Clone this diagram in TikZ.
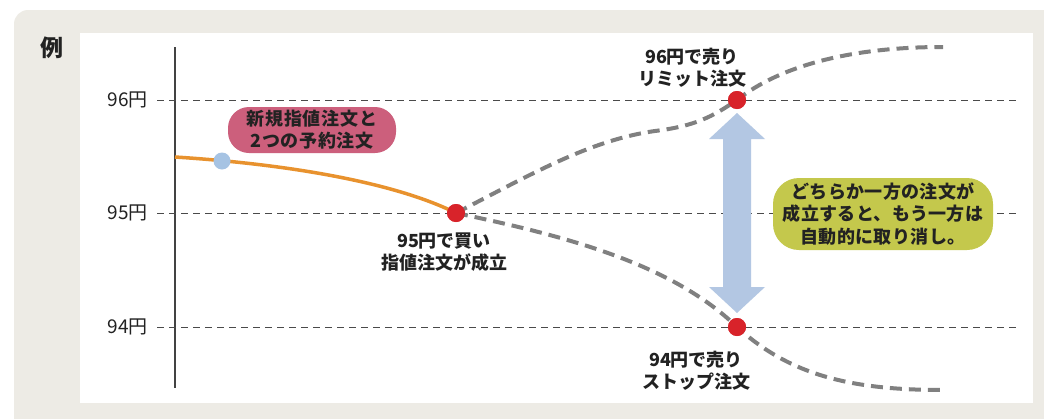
\documentclass[tikz,border=0pt]{standalone}
\usepackage{fontspec}
\setmainfont{Noto Sans CJK JP}
\usetikzlibrary{calc}
\definecolor{bggray}{HTML}{EDEBE5}
\definecolor{txt}{HTML}{222222}
\definecolor{orangeC}{HTML}{E8922E}
\definecolor{pinkC}{HTML}{CC5F7C}
\definecolor{greenC}{HTML}{C4C84C}
\definecolor{arrowC}{HTML}{B3C7E3}
\definecolor{bluedot}{HTML}{A6C3E3}
\definecolor{redC}{HTML}{D8232A}
\definecolor{dashC}{HTML}{808080}
\definecolor{gridC}{HTML}{4A4A4A}
\tikzset{
  lbl/.style={text=txt, align=center, font=\bfseries\fontsize{18}{22}\selectfont, inner sep=0pt},
  ylbl/.style={text=txt, anchor=east, font=\fontsize{19}{19}\selectfont, inner sep=0pt},
  grid/.style={gridC, line width=0.9pt, dash pattern=on 7pt off 5pt},
  gdash/.style={dashC, line width=4pt, dash pattern=on 12pt off 7pt},
  pill/.style={rounded corners=21pt, text=txt, align=center, font=\bfseries\fontsize{18}{22}\selectfont\addfontfeature{LetterSpace=4}, inner sep=0pt},
  dot/.style={circle, inner sep=0pt, minimum size=18pt},
}
\begin{document}
\begin{tikzpicture}[x=1pt,y=-1pt]
\useasboundingbox (0,0) rectangle (1044,418);
% background panels
\fill[bggray, rounded corners=14pt] (14,10) rectangle (1070,440);
\fill[white] (80,33) rectangle (1033,403);
\node[text=txt, font=\bfseries\fontsize{23}{23}\selectfont, inner sep=0pt] (rei) at (52,48) {例};
% axis
\coordinate (axtop) at (175,47);
\coordinate (axbot) at (175,388);
\draw[gridC!90!black, line width=1.3pt] (axtop) -- (axbot);
% grid lines and labels
\node[ylbl] (l96) at (148,100) {96円};
\node[ylbl] (l95) at (148,213) {95円};
\node[ylbl] (l94) at (148,327) {94円};
\coordinate (e96) at (1017,100);
\coordinate (e95) at (1017,213);
\coordinate (e94) at (1017,327);
\draw[grid] (l96.east) ++(9,0) -- (e96);
\draw[grid] (l95.east) ++(9,0) -- (e95);
\draw[grid] (l94.east) ++(9,0) -- (e94);
% arrow
\fill[arrowC] (737,113) -- (765,139) -- (751,139) -- (751,287) -- (765,287) -- (737,313) -- (709,287) -- (723,287) -- (723,139) -- (709,139) -- cycle;
% curves
\coordinate (ostart) at (175,157);
\coordinate (uend) at (943,47);
\coordinate (lend) at (943,390);
\node[dot, fill=redC] (buy) at (456,213) {};
\node[dot, fill=redC] (limit) at (737,100) {};
\node[dot, fill=redC] (stop) at (737,327) {};
\draw[gdash] (buy.center) .. controls (530,175) and (590,140) .. (655,131) .. controls (695,126) and (712,117) .. (limit.center) .. controls (780,66) and (850,47) .. (uend);
\draw[gdash] (buy.center) .. controls (560,235) and (670,262) .. (stop.center) .. controls (790,375) and (850,390) .. (lend);
\draw[orangeC, line width=3.5pt] (ostart) .. controls (300,165) and (400,185) .. (buy.center);
\node[dot, fill=bluedot, minimum size=17pt] (start) at (222,161) {};
\node[dot, fill=redC] at (buy) {};
\node[dot, fill=redC] at (limit) {};
\node[dot, fill=redC] at (stop) {};
% pills
\node[pill, fill=pinkC, minimum width=168pt, minimum height=46pt] (pinkbox) at (312,130) {新規指値注文と\\2つの予約注文};
\node[pill, fill=greenC, minimum width=220pt, minimum height=72pt, rounded corners=26pt, font=\bfseries\fontsize{18}{22.5}\selectfont\addfontfeature{LetterSpace=2}] (greenbox) at (883,214) {どちらか一方の注文が\\成立すると、もう一方は\\自動的に取り消し。};
% labels
\node[lbl] (tlimit) at (692,68) {96円で売り\\リミット注文};
\node[lbl] (tbuy) at (444,252) {95円で買い\\指値注文が成立};
\node[lbl] (tstop) at (696,371) {94円で売り\\ストップ注文};
\end{tikzpicture}
\end{document}
